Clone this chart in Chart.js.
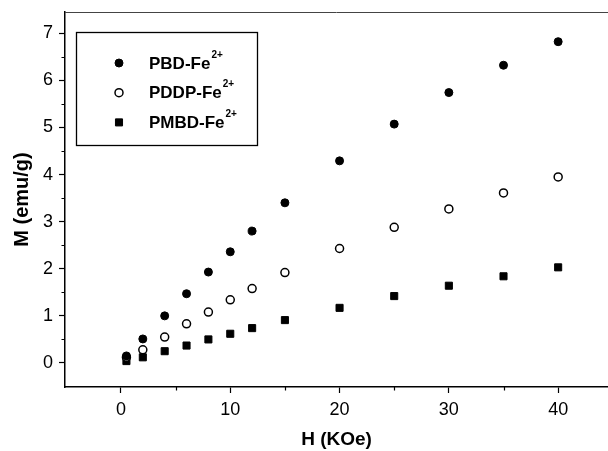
<!DOCTYPE html>
<html>
<head>
<meta charset="utf-8">
<script src="https://cdn.jsdelivr.net/npm/chart.js@4.4.1/dist/chart.umd.min.js"></script>
<style>
  html, body { margin: 0; padding: 0; background: #fff; }
  #wrap { width: 608px; height: 451px; }
</style>
</head>
<body>
<div id="wrap"><canvas id="c"></canvas></div>
<script>
// applied field H (KOe)
const fieldH = [0.5, 2, 4, 6, 8, 10, 12, 15, 20, 25, 30, 35, 40];
// magnetization M (emu/g) per sample
const pbd  = [0.15, 0.51, 1.00, 1.47, 1.93, 2.36, 2.80, 3.40, 4.29, 5.07, 5.74, 6.32, 6.82];
const pddp = [0.12, 0.28, 0.55, 0.83, 1.08, 1.34, 1.58, 1.92, 2.43, 2.88, 3.27, 3.61, 3.95];
const pmbd = [0.04, 0.12, 0.25, 0.37, 0.50, 0.62, 0.74, 0.91, 1.17, 1.42, 1.64, 1.84, 2.03];
const seriesNames = ['PBD-Fe', 'PDDP-Fe', 'PMBD-Fe'];
const ionCharge = '2+';
const xTicks = [0, 10, 20, 30, 40];
const xMinorTicks = [5, 15, 25, 35];
const yTicks = [0, 1, 2, 3, 4, 5, 6, 7];
const yMinorTicks = [0.5, 1.5, 2.5, 3.5, 4.5, 5.5, 6.5];

const FONT = '"Liberation Sans", Arial, sans-serif';

function pts(ys) {
    return fieldH.map((h, i) => ({x: h, y: ys[i]}));
}

function drawMarker(ctx, ds, x, y) {
    ctx.fillStyle = ds.pointBackgroundColor;
    ctx.strokeStyle = ds.pointBorderColor;
    ctx.lineWidth = ds.pointBorderWidth;
    const r = ds.pointRadius;
    ctx.beginPath();
    if (ds.pointStyle === 'rect') {
        const s = Math.SQRT1_2 * r;
        ctx.rect(x - s, y - s, 2 * s, 2 * s);
    } else {
        ctx.arc(x, y, r, 0, Math.PI * 2);
    }
    ctx.fill();
    ctx.stroke();
}

// no extra room around the axes, the plot fills the frame
function noPad(s) {
    s.paddingTop = 0;
    s.paddingBottom = 0;
    s.paddingLeft = 0;
    s.paddingRight = 0;
}

// minor ticks, top frame line and the boxed legend
const extras = {
    id: 'extras',
    afterDraw(chart) {
        const ctx = chart.ctx;
        const a = chart.chartArea;
        const xs = chart.scales.x, ys = chart.scales.y;
        ctx.save();
        ctx.strokeStyle = '#000';
        ctx.lineWidth = 1.2;
        ctx.beginPath();
        xMinorTicks.forEach(v => {
            const px = Math.round(xs.getPixelForValue(v)) + 0.5;
            ctx.moveTo(px, a.bottom);
            ctx.lineTo(px, a.bottom + 3.5);
        });
        yMinorTicks.forEach(v => {
            const py = Math.round(ys.getPixelForValue(v)) + 0.5;
            ctx.moveTo(a.left, py);
            ctx.lineTo(a.left - 3.5, py);
        });
        ctx.stroke();

        // top frame
        ctx.strokeStyle = '#444';
        ctx.lineWidth = 1;
        ctx.beginPath();
        ctx.moveTo(a.left, a.top + 0.5);
        ctx.lineTo(a.right, a.top + 0.5);
        ctx.stroke();

        // legend
        const x0 = a.left + 11, y0 = a.top + 20;
        ctx.strokeStyle = '#000';
        ctx.lineWidth = 1.3;
        ctx.strokeRect(x0 + 0.5, y0 + 0.5, 181, 113);
        chart.data.datasets.forEach((ds, i) => {
            const my = y0 + 31 + i * 29.7;
            drawMarker(ctx, ds, a.left + 54, my);
            ctx.fillStyle = '#000';
            ctx.textAlign = 'left';
            ctx.textBaseline = 'middle';
            ctx.font = 'bold 17px ' + FONT;
            ctx.fillText(seriesNames[i], a.left + 84, my + 1);
            const tw = ctx.measureText(seriesNames[i]).width;
            ctx.font = 'bold 10px ' + FONT;
            ctx.fillText(ionCharge, a.left + 84 + tw + 1, my - 8);
        });
        ctx.restore();
    }
};

document.addEventListener('DOMContentLoaded', function(){
    const ctx = document.getElementById('c');

    new Chart(ctx, {
        type: 'scatter',
        data: {
            datasets: [{
                label: seriesNames[0] + ionCharge,
                data: pts(pbd),
                pointStyle: 'circle',
                pointRadius: 4,
                pointBackgroundColor: '#000',
                pointBorderColor: '#000',
                pointBorderWidth: 1
            }, {
                label: seriesNames[1] + ionCharge,
                data: pts(pddp),
                pointStyle: 'circle',
                pointRadius: 4,
                pointBackgroundColor: '#fff',
                pointBorderColor: '#000',
                pointBorderWidth: 1.5
            }, {
                label: seriesNames[2] + ionCharge,
                data: pts(pmbd),
                pointStyle: 'rect',
                pointRadius: 5,
                pointBackgroundColor: '#000',
                pointBorderColor: '#000',
                pointBorderWidth: 1
            }]
        },
        options: {
            responsive: true,
            maintainAspectRatio: false,
            animation: false,
            layout: {autoPadding: false, padding: {top: 12, right: 0, bottom: 0, left: 0}},
            plugins: {legend: {display: false}, tooltip: {enabled: false}},
            scales: {
                x: {
                    type: 'linear',
                    min: -5.12,
                    max: 44.56,
                    afterBuildTicks: s => { s.ticks = xTicks.map(v => ({value: v})); },
                    afterFit: s => { s.height = 64; noPad(s); },
                    border: {color: '#000', width: 1.5},
                    grid: {drawOnChartArea: false, tickLength: 6, tickColor: '#000', tickWidth: 1.2},
                    ticks: {color: '#000', padding: 6, font: {family: FONT, size: 18}},
                    title: {display: true, text: 'H (KOe)', color: '#000',
                            padding: {top: 0, bottom: 0},
                            font: {family: FONT, size: 19, weight: 'bold'}}
                },
                y: {
                    type: 'linear',
                    min: -0.51,
                    max: 7.45,
                    afterBuildTicks: s => { s.ticks = yTicks.map(v => ({value: v})); },
                    afterFit: s => { s.width = 65; noPad(s); },
                    border: {color: '#000', width: 1.5},
                    grid: {drawOnChartArea: false, tickLength: 6, tickColor: '#000', tickWidth: 1.2},
                    ticks: {color: '#000', padding: 6, font: {family: FONT, size: 18}},
                    title: {display: true, text: 'M (emu/g)', color: '#000',
                            padding: {top: 10, bottom: 0},
                            font: {family: FONT, size: 20, weight: 'bold'}}
                }
            }
        },
        plugins: [extras]
    });
});
</script>
</body>
</html>
